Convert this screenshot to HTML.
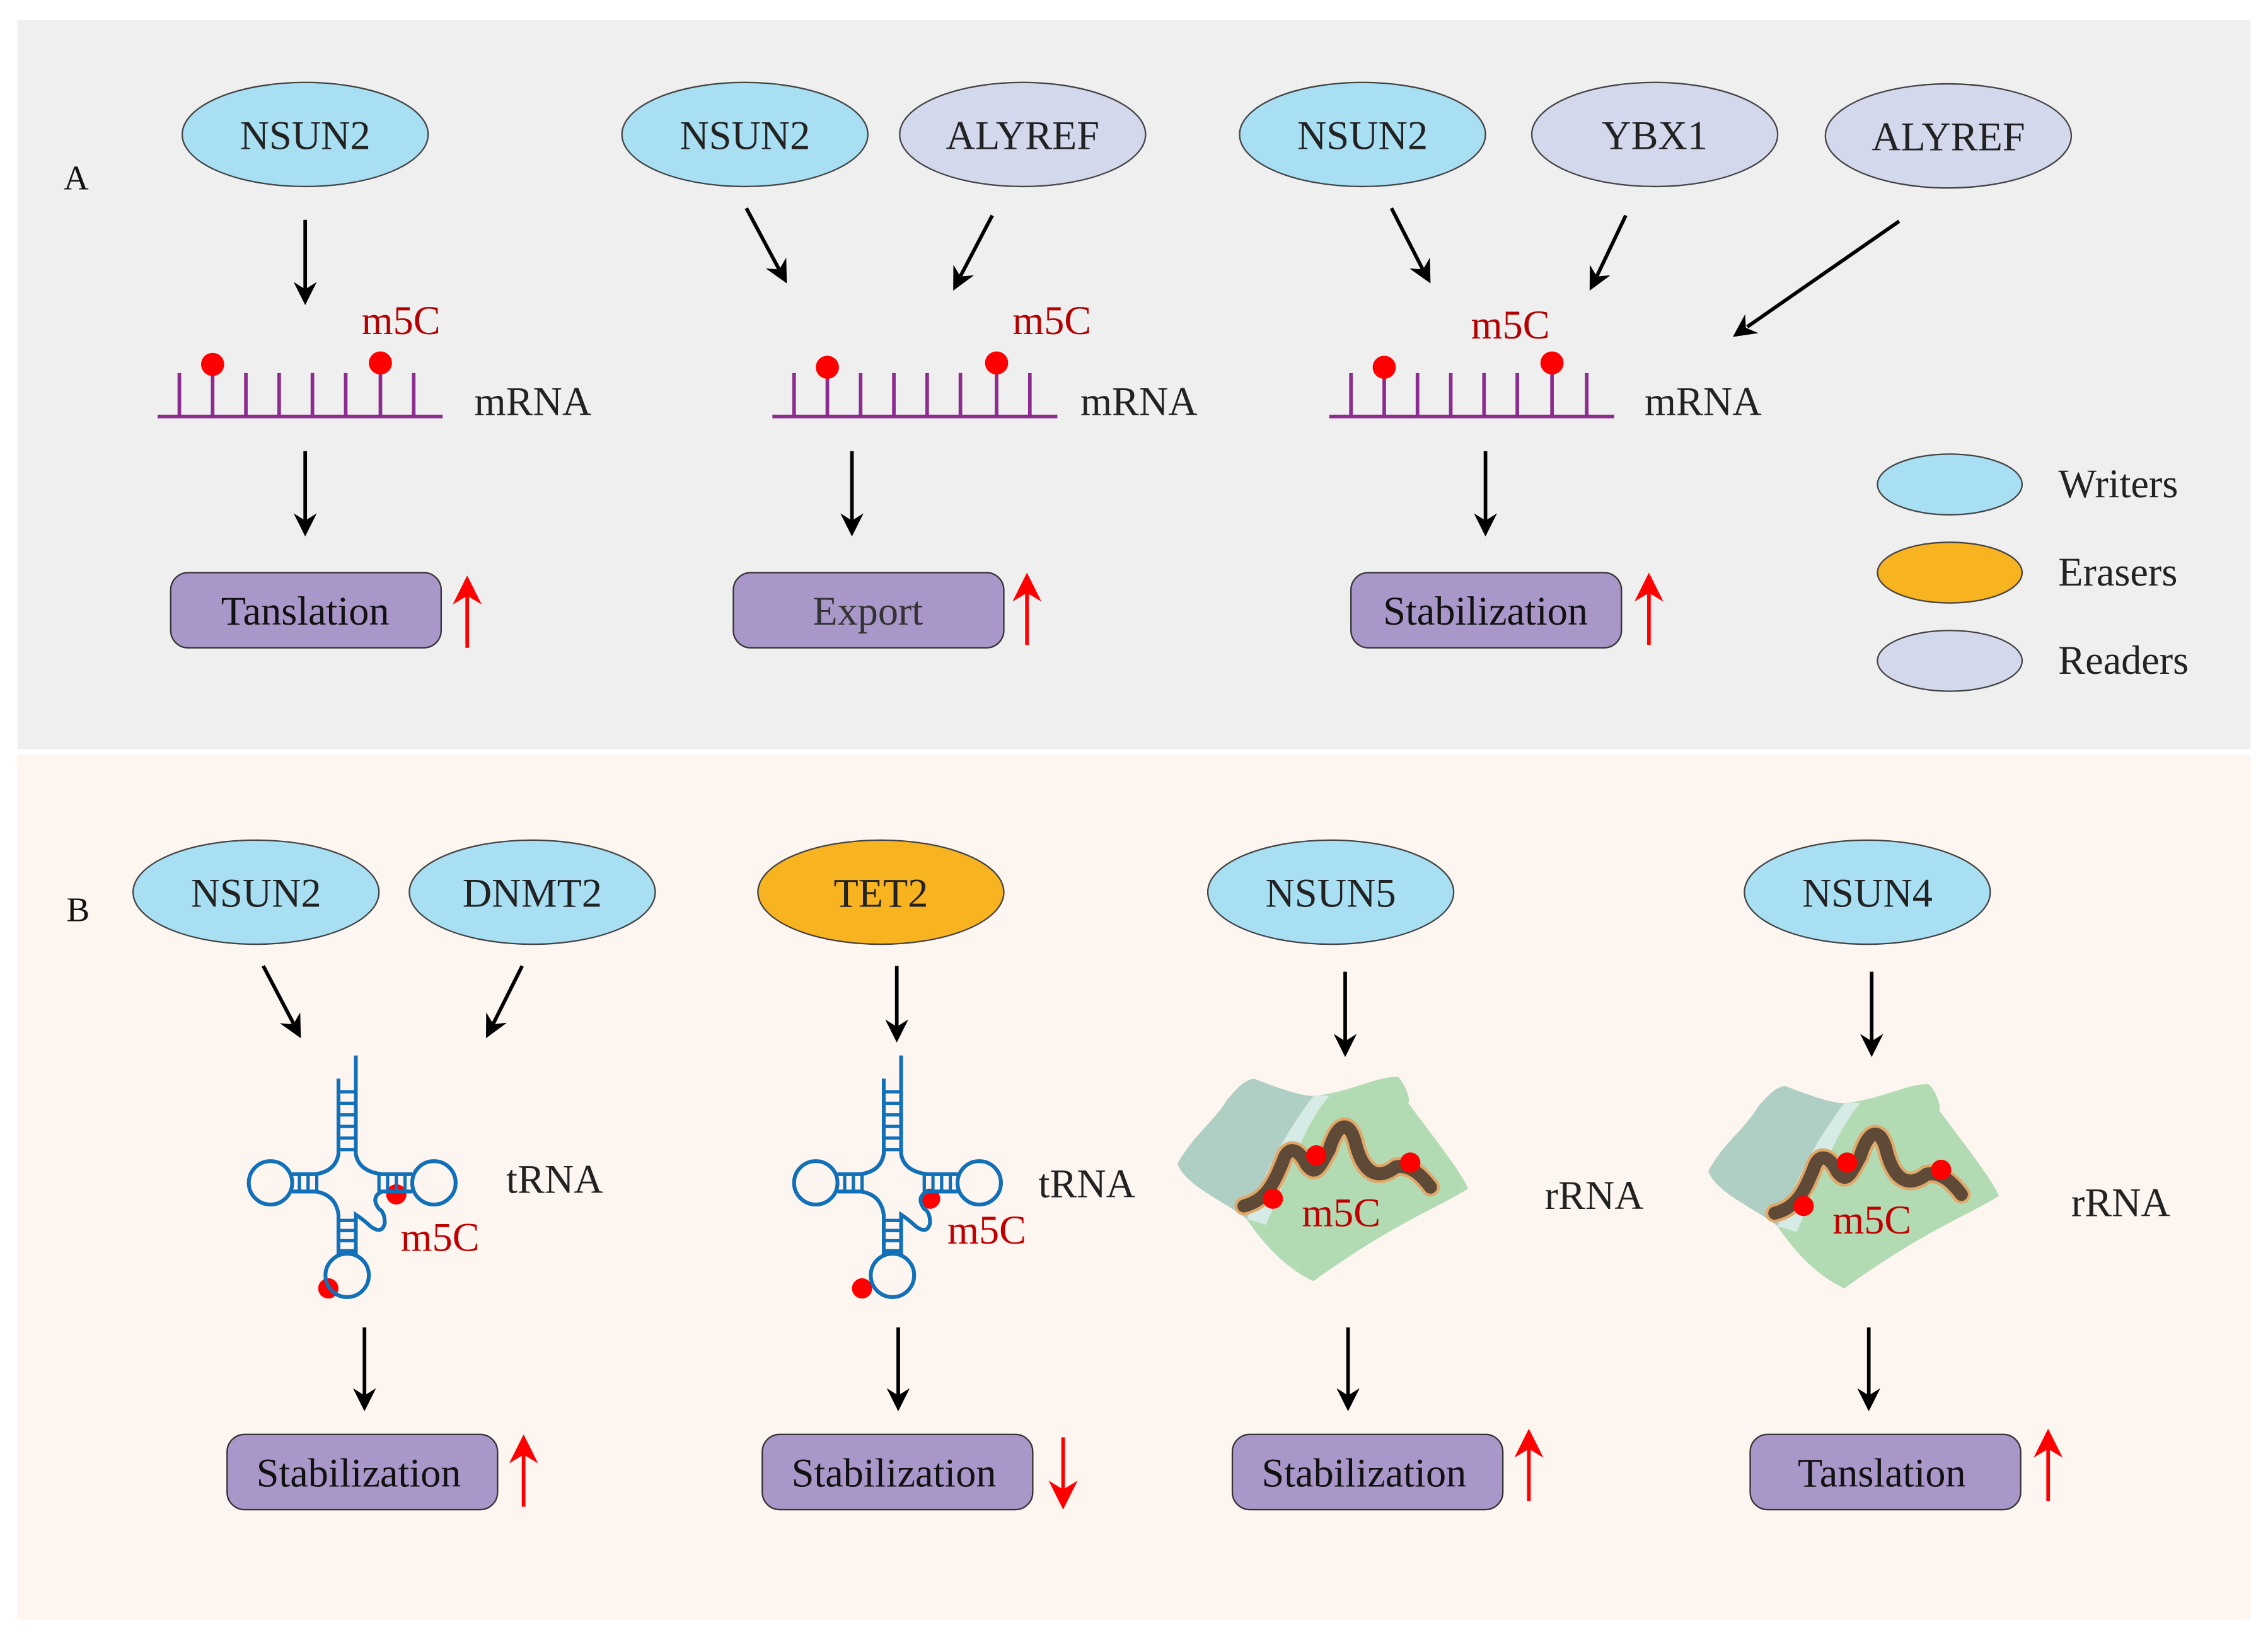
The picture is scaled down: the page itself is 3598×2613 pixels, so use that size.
<!DOCTYPE html>
<html><head><meta charset="utf-8"><style>
html,body{margin:0;padding:0;background:#fff;}
svg{display:block;}
svg text{font-family:"Liberation Serif",serif;}
</style></head><body>
<svg width="3598" height="2613" viewBox="0 0 1568 1139" preserveAspectRatio="none" xmlns="http://www.w3.org/2000/svg" font-family="Liberation Serif, serif">
<defs>
<g id="arrowhead"><path d="M0,0 L-16,-8 L-11,0 L-16,8 Z" fill="#000"/></g>
<g id="trna" fill="none" stroke="#1170b8" stroke-width="2.6">
<path d="M6,-88 V-20 Q8,-8 24,-6 H45"/>
<path d="M-6,-72 V-20 Q-8,-8 -22,-6 H-38"/>
<path d="M-38,6 H-22 Q-8,8 -6,22 V50"/>
<path d="M6,50 V22 Q12,26 16,30 Q24,36 26,28 Q26,20 22,18 Q16,10 24,6 H45"/>
<circle cx="-53" cy="0" r="15"/>
<circle cx="60" cy="0" r="15"/>
<circle cx="0" cy="64" r="15"/>
<g stroke-width="2.2">
<path d="M-6,-63 H6 M-6,-55 H6 M-6,-47 H6 M-6,-39 H6 M-6,-31 H6 M-6,-23 H6"/>
<path d="M-33,-6 V6 M-27,-6 V6 M-21,-6 V6"/>
<path d="M22,-6 V6 M28,-6 V6 M34,-6 V6 M40,-6 V6"/>
<path d="M-6,26 H6 M-6,33 H6 M-6,40 H6 M-6,47 H6"/>
</g>
</g>
<g id="rrna">
<path d="M-101,-10 C-90,-30 -75,-40 -67,-54 C-60,-62 -55,-68 -48,-69 C-30,-62 -15,-57 -7,-57 C20,-60 40,-72 52,-70 C60,-60 60,-50 58,-53 C75,-30 95,-5 100,7 C80,20 50,30 -7,71 C-30,60 -45,40 -54,27 C-70,15 -95,5 -101,-10 Z" fill="#b3dbb3"/>
<path d="M-101,-10 C-90,-30 -75,-40 -67,-54 C-60,-62 -55,-68 -48,-69 C-30,-62 -15,-57 -7,-57 C-25,-35 -35,-5 -53,28 C-70,15 -95,5 -101,-10 Z" fill="#b0cfc4"/>
<path d="M-7,-57 C-3,-58 2,-57 4,-57 C-15,-35 -25,0 -40,32 L-53,28 C-45,10 -35,-20 -7,-57 Z" fill="#d6ebe6"/>
<path d="M-55,19 C-40,15 -35,5 -28,-12 C-25,-22 -18,-22 -12,-10 C-5,0 -2,-10 4,-20 C10,-40 18,-40 22,-25 C28,0 40,0 50,-8 C60,-10 68,-2 74,6" fill="none" stroke="#e0a86a" stroke-width="13" stroke-linecap="round"/>
<path d="M-55,19 C-40,15 -35,5 -28,-12 C-25,-22 -18,-22 -12,-10 C-5,0 -2,-10 4,-20 C10,-40 18,-40 22,-25 C28,0 40,0 50,-8 C60,-10 68,-2 74,6" fill="none" stroke="#5e4a36" stroke-width="9" stroke-linecap="round"/>
<circle cx="-35" cy="14" r="7" fill="#f00"/>
<circle cx="-5" cy="-16" r="7" fill="#f00"/>
<circle cx="60" cy="-11" r="7" fill="#f00"/>
<text x="-15" y="33" font-size="28" fill="#c00000">m5C</text>
</g>
</defs>

<rect x="12" y="14" width="1544" height="504" fill="#efefef"/>
<rect x="12" y="522" width="1544" height="598" fill="#fdf5f0"/>

<g font-size="28" fill="#111">
<text x="44" y="131" font-size="24">A</text>
<text x="46" y="637" font-size="24">B</text>
</g>

<g stroke="#444" stroke-width="1">
<ellipse cx="211" cy="93" rx="85" ry="36" fill="#a8dff2"/>
<ellipse cx="515" cy="93" rx="85" ry="36" fill="#a8dff2"/>
<ellipse cx="707" cy="93" rx="85" ry="36" fill="#d3d8ec"/>
<ellipse cx="942" cy="93" rx="85" ry="36" fill="#a8dff2"/>
<ellipse cx="1144" cy="93" rx="85" ry="36" fill="#d3d8ec"/>
<ellipse cx="1347" cy="94" rx="85" ry="36" fill="#d3d8ec"/>
<ellipse cx="1348" cy="335" rx="50" ry="21" fill="#a8dff2"/>
<ellipse cx="1348" cy="396" rx="50" ry="21" fill="#f8b321"/>
<ellipse cx="1348" cy="457" rx="50" ry="21" fill="#d3d8ec"/>
<ellipse cx="177" cy="617" rx="85" ry="36" fill="#a8dff2"/>
<ellipse cx="368" cy="617" rx="85" ry="36" fill="#a8dff2"/>
<ellipse cx="609" cy="617" rx="85" ry="36" fill="#f8b321"/>
<ellipse cx="920" cy="617" rx="85" ry="36" fill="#a8dff2"/>
<ellipse cx="1291" cy="617" rx="85" ry="36" fill="#a8dff2"/>
</g>
<g font-size="28" fill="#222" text-anchor="middle">
<text x="211" y="103">NSUN2</text>
<text x="515" y="103">NSUN2</text>
<text x="707" y="103">ALYREF</text>
<text x="942" y="103">NSUN2</text>
<text x="1144" y="103">YBX1</text>
<text x="1347" y="104">ALYREF</text>
<text x="177" y="627">NSUN2</text>
<text x="368" y="627">DNMT2</text>
<text x="609" y="627">TET2</text>
<text x="920" y="627">NSUN5</text>
<text x="1291" y="627">NSUN4</text>
</g>
<g font-size="28" fill="#222">
<text x="1423" y="344">Writers</text>
<text x="1423" y="405">Erasers</text>
<text x="1423" y="466">Readers</text>
</g>

<g stroke="#000" stroke-width="2.5">
<line x1="211" y1="152" x2="211" y2="200"/>
<line x1="211" y1="312" x2="211" y2="360"/>
<line x1="516" y1="144" x2="539" y2="187"/>
<line x1="686" y1="149" x2="664" y2="191"/>
<line x1="589" y1="312" x2="589" y2="360"/>
<line x1="962" y1="144" x2="984" y2="187"/>
<line x1="1124" y1="149" x2="1104" y2="191"/>
<line x1="1313" y1="153" x2="1208" y2="226"/>
<line x1="1027" y1="312" x2="1027" y2="360"/>
<line x1="182" y1="668" x2="203" y2="708"/>
<line x1="361" y1="668" x2="341" y2="708"/>
<line x1="252" y1="918" x2="252" y2="965"/>
<line x1="620" y1="668" x2="620" y2="710"/>
<line x1="621" y1="918" x2="621" y2="965"/>
<line x1="930" y1="672" x2="930" y2="720"/>
<line x1="932" y1="918" x2="932" y2="965"/>
<line x1="1294" y1="672" x2="1294" y2="720"/>
<line x1="1292" y1="918" x2="1292" y2="965"/>
</g>
<use href="#arrowhead" transform="translate(211,211) rotate(90)"/>
<use href="#arrowhead" transform="translate(211,371) rotate(90)"/>
<use href="#arrowhead" transform="translate(544,196) rotate(62)"/>
<use href="#arrowhead" transform="translate(659,201) rotate(117)"/>
<use href="#arrowhead" transform="translate(589,371) rotate(90)"/>
<use href="#arrowhead" transform="translate(989,196) rotate(62)"/>
<use href="#arrowhead" transform="translate(1099,201) rotate(117)"/>
<use href="#arrowhead" transform="translate(1198,233) rotate(145)"/>
<use href="#arrowhead" transform="translate(1027,371) rotate(90)"/>
<use href="#arrowhead" transform="translate(208,718) rotate(62)"/>
<use href="#arrowhead" transform="translate(336,718) rotate(117)"/>
<use href="#arrowhead" transform="translate(252,976) rotate(90)"/>
<use href="#arrowhead" transform="translate(620,721) rotate(90)"/>
<use href="#arrowhead" transform="translate(621,976) rotate(90)"/>
<use href="#arrowhead" transform="translate(930,731) rotate(90)"/>
<use href="#arrowhead" transform="translate(932,976) rotate(90)"/>
<use href="#arrowhead" transform="translate(1294,731) rotate(90)"/>
<use href="#arrowhead" transform="translate(1292,976) rotate(90)"/>

<g stroke="#8b2c8e" stroke-width="2.5">
<line x1="109" y1="288" x2="306" y2="288"/>
<path d="M124,258V288 M147,252V288 M170,258V288 M193,258V288 M216,258V288 M239,258V288 M263,252V288 M286,258V288"/>
<line x1="534" y1="288" x2="731" y2="288"/>
<path d="M549,258V288 M572,252V288 M595,258V288 M618,258V288 M641,258V288 M664,258V288 M689,252V288 M712,258V288"/>
<line x1="919" y1="288" x2="1116" y2="288"/>
<path d="M934,258V288 M957,252V288 M980,258V288 M1003,258V288 M1026,258V288 M1049,258V288 M1073,252V288 M1097,258V288"/>
</g>
<g fill="#f00">
<circle cx="147" cy="252" r="8"/><circle cx="263" cy="251" r="8"/>
<circle cx="572" cy="254" r="8"/><circle cx="689" cy="251" r="8"/>
<circle cx="957" cy="254" r="8"/><circle cx="1073" cy="251" r="8"/>
</g>
<g font-size="28" fill="#b30000">
<text x="250" y="231">m5C</text>
<text x="700" y="231">m5C</text>
<text x="1017" y="234">m5C</text>
</g>
<g font-size="28" fill="#222">
<text x="328" y="287">mRNA</text>
<text x="747" y="287">mRNA</text>
<text x="1137" y="287">mRNA</text>
<text x="350" y="825">tRNA</text>
<text x="718" y="828">tRNA</text>
<text x="1068" y="836">rRNA</text>
<text x="1432" y="841">rRNA</text>
</g>

<g transform="translate(240,818)"><use href="#trna"/><circle cx="34" cy="8" r="7" fill="#f00"/><circle cx="-13" cy="73" r="7" fill="#f00"/></g>
<g transform="translate(240,818)"><use href="#trna"/></g>
<g transform="translate(617,818)"><use href="#trna"/><circle cx="26" cy="11" r="7" fill="#f00"/><circle cx="-21" cy="73" r="7" fill="#f00"/></g>
<g transform="translate(617,818)"><use href="#trna"/></g>
<g font-size="28" fill="#c00000">
<text x="277" y="865">m5C</text>
<text x="655" y="860">m5C</text>
</g>

<g transform="translate(915,815)"><use href="#rrna"/></g>
<g transform="translate(1282,820)"><use href="#rrna"/></g>

<g fill="#a897c8" stroke="#333" stroke-width="1">
<rect x="118" y="396" width="187" height="52" rx="12"/>
<rect x="507" y="396" width="187" height="52" rx="12"/>
<rect x="934" y="396" width="187" height="52" rx="12"/>
<rect x="157" y="992" width="187" height="52" rx="12"/>
<rect x="527" y="992" width="187" height="52" rx="12"/>
<rect x="852" y="992" width="187" height="52" rx="12"/>
<rect x="1210" y="992" width="187" height="52" rx="12"/>
</g>
<g font-size="28" fill="#111" text-anchor="middle">
<text x="211" y="432">Tanslation</text>
<text x="600" y="432" fill="#333">Export</text>
<text x="1027" y="432">Stabilization</text>
<text x="248" y="1028">Stabilization</text>
<text x="618" y="1028">Stabilization</text>
<text x="943" y="1028">Stabilization</text>
<text x="1301" y="1028">Tanslation</text>
</g>

<g stroke="#f00" stroke-width="2.5" fill="none">
<line x1="323" y1="448" x2="323" y2="404"/>
<line x1="710" y1="446" x2="710" y2="402"/>
<line x1="1140" y1="446" x2="1140" y2="402"/>
<line x1="362" y1="1042" x2="362" y2="998"/>
<line x1="735" y1="994" x2="735" y2="1038"/>
<line x1="1057" y1="1038" x2="1057" y2="994"/>
<line x1="1416" y1="1038" x2="1416" y2="994"/>
</g>
<g fill="#f00">
<path d="M323,398 L313,418 L323,412 L333,418 Z"/>
<path d="M710,396 L700,416 L710,410 L720,416 Z"/>
<path d="M1140,396 L1130,416 L1140,410 L1150,416 Z"/>
<path d="M362,992 L352,1012 L362,1006 L372,1012 Z"/>
<path d="M735,1044 L725,1024 L735,1030 L745,1024 Z"/>
<path d="M1057,988 L1047,1008 L1057,1002 L1067,1008 Z"/>
<path d="M1416,988 L1406,1008 L1416,1002 L1426,1008 Z"/>
</g>
</svg>
</body></html>
